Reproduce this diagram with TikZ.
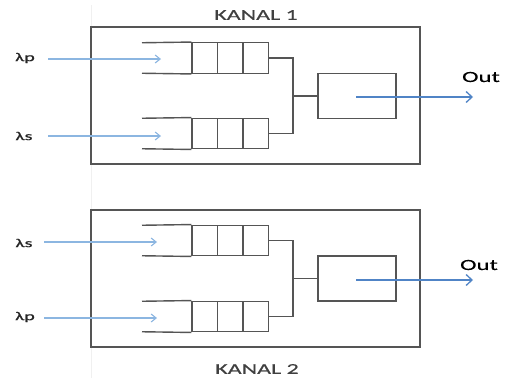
\documentclass[tikz,border=0pt]{standalone}
\usepackage{fontspec}
\newfontfamily\lab[FakeStretch=1.65,FakeBold=1.2]{Carlito}
\newfontfamily\labreg[FakeStretch=1.6,FakeBold=0.4]{Carlito}
\usetikzlibrary{arrows.meta}
\definecolor{linegray}{RGB}{85,85,85}
\definecolor{inblue}{RGB}{140,182,225}
\definecolor{outblue}{RGB}{80,132,198}
\tikzset{
  panel/.style={draw=linegray, line width=1.4pt, minimum width=329pt, minimum height=137pt, inner sep=0pt},
  cell/.style={draw=linegray, line width=1.4pt, minimum width=25.4pt, minimum height=30.5pt, inner sep=0pt},
  server/.style={draw=linegray, line width=1.4pt, minimum width=78pt, minimum height=45pt, inner sep=0pt},
  wire/.style={draw=linegray, line width=1.4pt},
  inarrow/.style={draw=inblue, line width=1.1pt, -{Straight Barb[length=5pt,width=8pt,line width=1.1pt]}},
  outarrow/.style={draw=outblue, line width=1.3pt, -{Straight Barb[length=6pt,width=11pt,line width=1.3pt]}},
  title/.style={font=\labreg\fontsize{15}{18}\selectfont, text=black!75, inner sep=0pt},
  outlab/.style={font=\labreg\fontsize{15.5}{18}\selectfont, inner sep=0pt},
  lamlab/.style={font=\lab\fontsize{12}{15}\selectfont, text=black!85, inner sep=0pt},
  faint/.style={draw=black!6, line width=0.6pt}
}
\begin{document}
\begin{tikzpicture}[x=1pt,y=-1pt]
\useasboundingbox (0,0) rectangle (505,378);
\fill[white] (0,0) rectangle (505,378);
% faint guide line
\coordinate (g1) at (91.5,5);
\coordinate (g2) at (91.5,378);
\draw[faint] (g1) -- (g2);

% ================= KANAL 1 =================
\node[panel] (p1) at (255.5,95.5) {};
\node[title] (t1) at (256,15) {KANAL 1};
% queue A
\node[cell] (a1) at (204.7,58) {};
\node[cell] (a2) at (230.1,58) {};
\node[cell] (a3) at (255.5,58) {};
\coordinate (a0t) at (142,42.75);
\coordinate (a0b) at (142,73.25);
\draw[wire] (a0t) -- (a1.north west);
\draw[wire] (a0b) -- (a1.south west);
% queue B
\node[cell] (b1) at (204.7,133.5) {};
\node[cell] (b2) at (230.1,133.5) {};
\node[cell] (b3) at (255.5,133.5) {};
\coordinate (b0t) at (142,118.25);
\coordinate (b0b) at (142,148.75);
\draw[wire] (b0t) -- (b1.north west);
\draw[wire] (b0b) -- (b1.south west);
% server
\node[server] (s1) at (357,96) {};
\coordinate (j1) at (293,96);
\draw[wire] (a3.east) -| (j1) -- (s1.west);
\draw[wire] (b3.east) -| (j1);
% inputs
\node[lamlab] (l1a) at (25,58) {λp};
\node[lamlab] (l1b) at (24,136) {λs};
\coordinate (i1as) at (48,59);
\coordinate (i1ae) at (161,59);
\coordinate (i1bs) at (48,136);
\coordinate (i1be) at (161,136);
\draw[inarrow] (i1as) -- (i1ae);
\draw[inarrow] (i1bs) -- (i1be);
% output
\coordinate (o1s) at (356,97);
\coordinate (o1e) at (473,97);
\draw[outarrow] (o1s) -- (o1e);
\node[outlab] (out1) at (481,77) {Out};

% ================= KANAL 2 =================
\node[panel] (p2) at (255.5,278.5) {};
\node[title] (t2) at (257,369) {KANAL 2};
% queue C
\node[cell] (c1) at (204.7,240.5) {};
\node[cell] (c2) at (230.1,240.5) {};
\node[cell] (c3) at (255.5,240.5) {};
\coordinate (c0t) at (142,225.25);
\coordinate (c0b) at (142,255.75);
\draw[wire] (c0t) -- (c1.north west);
\draw[wire] (c0b) -- (c1.south west);
% queue D
\node[cell] (d1) at (204.7,316.5) {};
\node[cell] (d2) at (230.1,316.5) {};
\node[cell] (d3) at (255.5,316.5) {};
\coordinate (d0t) at (142,301.25);
\coordinate (d0b) at (142,331.75);
\draw[wire] (d0t) -- (d1.north west);
\draw[wire] (d0b) -- (d1.south west);
% server
\node[server] (s2) at (357,278.5) {};
\coordinate (j2) at (293,278.5);
\draw[wire] (c3.east) -| (j2) -- (s2.west);
\draw[wire] (d3.east) -| (j2);
% inputs
\node[lamlab] (l2a) at (24,243) {λs};
\node[lamlab] (l2b) at (25,317) {λp};
\coordinate (i2as) at (44,242);
\coordinate (i2ae) at (157,242);
\coordinate (i2bs) at (44,318);
\coordinate (i2be) at (157,318);
\draw[inarrow] (i2as) -- (i2ae);
\draw[inarrow] (i2bs) -- (i2be);
% output
\coordinate (o2s) at (356,280);
\coordinate (o2e) at (473,280);
\draw[outarrow] (o2s) -- (o2e);
\node[outlab] (out2) at (479,265) {Out};
\end{tikzpicture}
\end{document}
